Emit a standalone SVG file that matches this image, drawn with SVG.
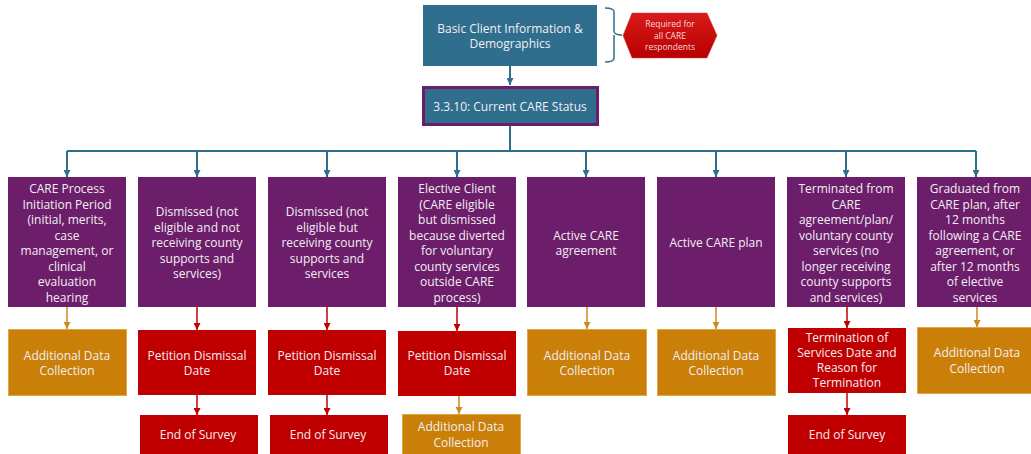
<svg xmlns="http://www.w3.org/2000/svg" width="1031" height="454" viewBox="0 0 1031 454">
  <style>
    text { font-family: "Open Sans", "Noto Sans", "DejaVu Sans", sans-serif; font-size: 12px; fill: #F2EEF2; text-anchor: middle; }
    .teal { fill: #2F6E8D; }
    .purple { fill: #6C1E6A; }
    .red { fill: #C00000; }
    .orange { fill: #CA8008; stroke: #E2A548; stroke-width: 1; }
    .ln-teal { stroke: #2F6E8D; stroke-width: 2; fill: none; }
    .ln-red { stroke: #C00000; stroke-width: 1.5; fill: none; }
    .ln-orange { stroke: #D08A1A; stroke-width: 1.5; fill: none; }
    .small { font-size: 8.5px; fill: #F6DADA; }
  </style>
  <defs>
    <marker id="ah-teal" viewBox="0 0 7 7" refX="7" refY="3.5" markerWidth="7" markerHeight="7" markerUnits="userSpaceOnUse" orient="auto">
      <path d="M0,0 L7,3.5 L0,7 z" fill="#2F6E8D"/>
    </marker>
    <marker id="ah-red" viewBox="0 0 7 7" refX="7" refY="3.5" markerWidth="7" markerHeight="7" markerUnits="userSpaceOnUse" orient="auto">
      <path d="M0,0 L7,3.5 L0,7 z" fill="#C00000"/>
    </marker>
    <marker id="ah-orange" viewBox="0 0 7 7" refX="7" refY="3.5" markerWidth="7" markerHeight="7" markerUnits="userSpaceOnUse" orient="auto">
      <path d="M0,0 L7,3.5 L0,7 z" fill="#D08A1A"/>
    </marker>
    <linearGradient id="hexFill" x1="0" y1="0" x2="0" y2="1">
      <stop offset="0" stop-color="#D81A1A"/>
      <stop offset="1" stop-color="#B80000"/>
    </linearGradient>
  </defs>

  <rect width="1031" height="454" fill="#FFFFFF"/>

  <!-- connectors -->
  <g id="connectors">
    <path class="ln-teal" d="M510,66 V85" marker-end="url(#ah-teal)"/>
    <path class="ln-teal" d="M510,126 V151"/>
    <path class="ln-teal" d="M67,151 H976"/>
    <path class="ln-teal" d="M67,151 V177" marker-end="url(#ah-teal)"/>
    <path class="ln-teal" d="M197,151 V177" marker-end="url(#ah-teal)"/>
    <path class="ln-teal" d="M327,151 V177" marker-end="url(#ah-teal)"/>
    <path class="ln-teal" d="M457,151 V177" marker-end="url(#ah-teal)"/>
    <path class="ln-teal" d="M586,151 V177" marker-end="url(#ah-teal)"/>
    <path class="ln-teal" d="M716,151 V177" marker-end="url(#ah-teal)"/>
    <path class="ln-teal" d="M846,151 V177" marker-end="url(#ah-teal)"/>
    <path class="ln-teal" d="M976,151 V177" marker-end="url(#ah-teal)"/>

    <path class="ln-orange" d="M67,307 V329" marker-end="url(#ah-orange)"/>
    <path class="ln-red" d="M197,307 V330" marker-end="url(#ah-red)"/>
    <path class="ln-red" d="M327,307 V330" marker-end="url(#ah-red)"/>
    <path class="ln-red" d="M457,307 V331" marker-end="url(#ah-red)"/>
    <path class="ln-orange" d="M587,307 V329" marker-end="url(#ah-orange)"/>
    <path class="ln-orange" d="M716,307 V329" marker-end="url(#ah-orange)"/>
    <path class="ln-red" d="M847,307 V328" marker-end="url(#ah-red)"/>
    <path class="ln-orange" d="M977,307 V327" marker-end="url(#ah-orange)"/>

    <path class="ln-red" d="M197,395 V415" marker-end="url(#ah-red)"/>
    <path class="ln-red" d="M327,395 V415" marker-end="url(#ah-red)"/>
    <path class="ln-orange" d="M459,396 V414" marker-end="url(#ah-orange)"/>
    <path class="ln-red" d="M847,393 V415" marker-end="url(#ah-red)"/>
  </g>

  <!-- header -->
  <g id="basic-info">
    <rect class="teal" x="423" y="5" width="174" height="61"/>
    <text x="510" y="32.6">Basic Client Information &amp;</text>
    <text x="510" y="47.6">Demographics</text>
  </g>

  <g id="required-note">
    <path d="M605,8 Q614,8 614,12 V31 Q614,35 622,35 M614,35 Q614,35 614,39 V58 Q614,62 605,62" fill="none" stroke="#2F6E8D" stroke-width="1.5"/>
    <polygon points="623,35.5 632,13 707,13 717,35.5 707,58 632,58" fill="url(#hexFill)" stroke="#D84040" stroke-width="0.5"/>
    <text class="small" x="670" y="27">Required for</text>
    <text class="small" x="670" y="39">all CARE</text>
    <text class="small" x="670" y="50">respondents</text>
  </g>

  <g id="current-status">
    <rect class="teal" x="423.5" y="87.5" width="174" height="37" stroke="#6C1E6A" stroke-width="3"/>
    <text x="510" y="111.3">3.3.10: Current CARE Status</text>
  </g>

  <!-- status categories -->
  <g id="status-initiation">
    <rect class="purple" x="8" y="177" width="118" height="130"/>
    <text x="67" y="193">CARE Process</text>
    <text x="67" y="208.5">Initiation Period</text>
    <text x="67" y="224">(initial, merits,</text>
    <text x="67" y="239.5">case</text>
    <text x="67" y="255">management, or</text>
    <text x="67" y="270.5">clinical</text>
    <text x="67" y="286">evaluation</text>
    <text x="67" y="301.5">hearing</text>
  </g>

  <g id="status-dismissed-not-receiving">
    <rect class="purple" x="138" y="177" width="118" height="130"/>
    <text x="197" y="216.3">Dismissed (not</text>
    <text x="197" y="231.8">eligible and not</text>
    <text x="197" y="247.3">receiving county</text>
    <text x="197" y="262.8">supports and</text>
    <text x="197" y="278.3">services)</text>
  </g>

  <g id="status-dismissed-receiving">
    <rect class="purple" x="268" y="177" width="118" height="130"/>
    <text x="327" y="216.3">Dismissed (not</text>
    <text x="327" y="231.8">eligible but</text>
    <text x="327" y="247.3">receiving county</text>
    <text x="327" y="262.8">supports and</text>
    <text x="327" y="278.3">services</text>
  </g>

  <g id="status-elective">
    <rect class="purple" x="398" y="177" width="118" height="130"/>
    <text x="457" y="193">Elective Client</text>
    <text x="457" y="208.5">(CARE eligible</text>
    <text x="457" y="224">but dismissed</text>
    <text x="457" y="239.5">because diverted</text>
    <text x="457" y="255">for voluntary</text>
    <text x="457" y="270.5">county services</text>
    <text x="457" y="286">outside CARE</text>
    <text x="457" y="301.5">process)</text>
  </g>

  <g id="status-active-agreement">
    <rect class="purple" x="527" y="177" width="118" height="130"/>
    <text x="586" y="239.5">Active CARE</text>
    <text x="586" y="255">agreement</text>
  </g>

  <g id="status-active-plan">
    <rect class="purple" x="657" y="177" width="118" height="130"/>
    <text x="716" y="247.3">Active CARE plan</text>
  </g>

  <g id="status-terminated">
    <rect class="purple" x="787" y="177" width="118" height="130"/>
    <text x="846" y="193">Terminated from</text>
    <text x="846" y="208.5">CARE</text>
    <text x="846" y="224">agreement/plan/</text>
    <text x="846" y="239.5">voluntary county</text>
    <text x="846" y="255">services (no</text>
    <text x="846" y="270.5">longer receiving</text>
    <text x="846" y="286">county supports</text>
    <text x="846" y="301.5">and services)</text>
  </g>

  <g id="status-graduated">
    <rect class="purple" x="917" y="177" width="114" height="130"/>
    <text x="975" y="193">Graduated from</text>
    <text x="975" y="208.5">CARE plan, after</text>
    <text x="975" y="224">12 months</text>
    <text x="975" y="239.5">following a CARE</text>
    <text x="975" y="255">agreement, or</text>
    <text x="975" y="270.5">after 12 months</text>
    <text x="975" y="286">of elective</text>
    <text x="975" y="301.5">services</text>
  </g>

  <!-- follow-up steps -->
  <g id="adc-1">
    <rect class="orange" x="8.5" y="329.5" width="118" height="66"/>
    <text x="67" y="360.3">Additional Data</text>
    <text x="67" y="375.3">Collection</text>
  </g>

  <g id="petition-2">
    <rect class="red" x="138" y="330" width="118" height="65"/>
    <text x="197" y="360.3">Petition Dismissal</text>
    <text x="197" y="375.3">Date</text>
  </g>

  <g id="petition-3">
    <rect class="red" x="268" y="330" width="118" height="65"/>
    <text x="327" y="360.3">Petition Dismissal</text>
    <text x="327" y="375.3">Date</text>
  </g>

  <g id="petition-4">
    <rect class="red" x="398" y="331" width="118" height="65"/>
    <text x="457" y="360.3">Petition Dismissal</text>
    <text x="457" y="375.3">Date</text>
  </g>

  <g id="adc-5">
    <rect class="orange" x="527.5" y="329.5" width="119" height="66"/>
    <text x="587" y="360.3">Additional Data</text>
    <text x="587" y="375.3">Collection</text>
  </g>

  <g id="adc-6">
    <rect class="orange" x="657.5" y="329.5" width="118" height="66"/>
    <text x="716" y="360.3">Additional Data</text>
    <text x="716" y="375.3">Collection</text>
  </g>

  <g id="termination-7">
    <rect class="red" x="788" y="328" width="118" height="65"/>
    <text x="847" y="342.3">Termination of</text>
    <text x="847" y="357.3">Services Date and</text>
    <text x="847" y="372.3">Reason for</text>
    <text x="847" y="387.3">Termination</text>
  </g>

  <g id="adc-8">
    <rect class="orange" x="917.5" y="327.5" width="114" height="66"/>
    <text x="977" y="357.3">Additional Data</text>
    <text x="977" y="372.8">Collection</text>
  </g>

  <!-- final steps -->
  <g id="end-2">
    <rect class="red" x="140" y="415" width="118" height="39"/>
    <text x="198" y="439.3">End of Survey</text>
  </g>

  <g id="end-3">
    <rect class="red" x="270" y="415" width="118" height="39"/>
    <text x="328" y="439.3">End of Survey</text>
  </g>

  <g id="adc-4b">
    <rect class="orange" x="402.5" y="414.5" width="118" height="40"/>
    <text x="461" y="431.3">Additional Data</text>
    <text x="461" y="447">Collection</text>
  </g>

  <g id="end-7">
    <rect class="red" x="788" y="415" width="118" height="39"/>
    <text x="847" y="439.3">End of Survey</text>
  </g>
</svg>
